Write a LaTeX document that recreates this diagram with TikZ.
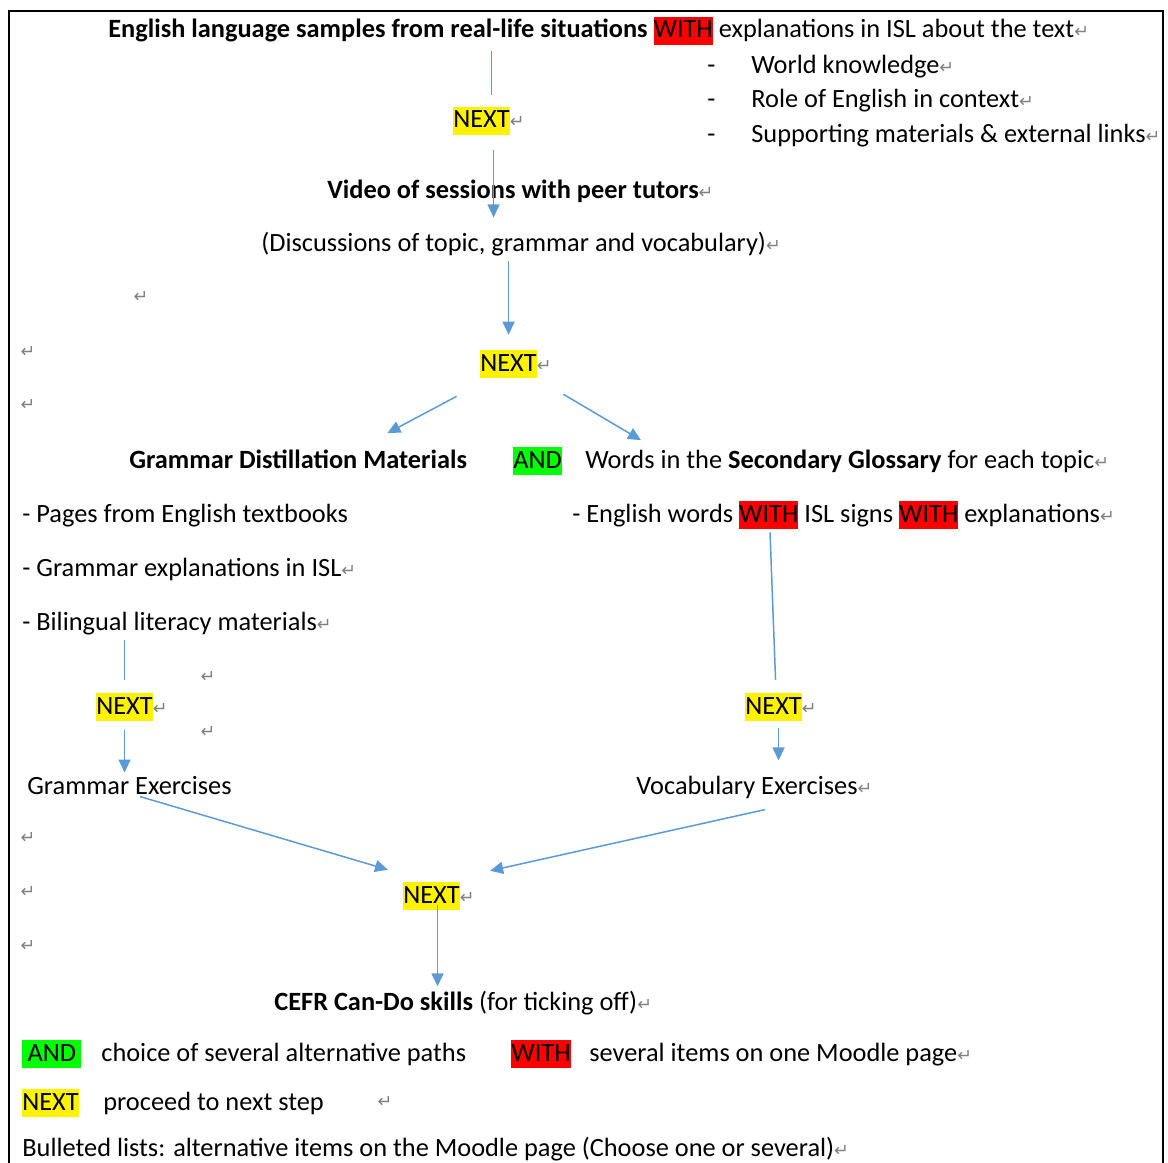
\documentclass[tikz,border=0pt]{standalone}
\usepackage{fontspec}
\setmainfont{Carlito}
\newfontfamily\symfont{DejaVu Sans}
\usetikzlibrary{arrows.meta,positioning}
\definecolor{arrowblue}{HTML}{5B9BD5}
\definecolor{markgray}{HTML}{808080}
\newcommand{\hlbox}[2]{{\setlength{\fboxsep}{0pt}\colorbox{#1}{\rule[-4pt]{0pt}{15.9pt}#2}}}
\newcommand{\ret}{{\symfont\fontsize{10}{10}\selectfont\color{markgray}↵}}

\begin{document}
\begin{tikzpicture}[
    x=0.02cm, y=-0.02cm,
    txt/.style={anchor=base west, inner sep=0pt, font=\fontsize{15}{18}\selectfont},
    nextbox/.style={txt, fill=yellow, text height=11.9pt, text depth=4pt},
    retmark/.style={anchor=center, inner sep=0pt},
    link/.style={-{Triangle[length=2.6mm,width=2.4mm]}, draw=arrowblue, line width=0.85pt},
    plain/.style={draw=arrowblue, line width=0.85pt}
]
\clip (0,0) rectangle (1168,1162);
\fill[white] (0,0) rectangle (1168,1162);
\draw[line width=1.3pt] (9,1200) -- (9,11) -- (1163,11) -- (1163,1200);

% top part
\node[txt] (title) at (108,38) {{\bfseries English language samples from real-life situations} \hlbox{red}{WITH} explanations in ISL about the text\ret};
\foreach \itemtext/\yy [count=\i] in {World knowledge/74, Role of English in context/108, Supporting materials \& external links/143} {
    \node[txt] (dash\i) at (707,\yy) {-};
    \node[txt] (item\i) at (751,\yy) {\itemtext\ret};
}
\node[nextbox] (nx1) at (453,128) {NEXT\rlap{\ret}};
\node[txt] (video) at (327,198) {\bfseries Video of sessions with peer tutors\mdseries\ret};
\node[txt] (discuss) at (261,251) {(Discussions of topic, grammar and vocabulary)\ret};
\node[nextbox] (nx2) at (480,371) {NEXT\rlap{\ret}};

% two branches
\node[txt] (gdm) at (129,468) {\bfseries Grammar Distillation Materials};
\node[txt, fill=green, text height=11.9pt, text depth=4pt] (and) at (513,468) {AND};
\node[txt] (words) at (585,468) {Words in the \textbf{Secondary Glossary} for each topic\ret};
\node[txt] (pages) at (22,522) {- Pages from English textbooks};
\node[txt] (gexpl) at (22,576) {- Grammar explanations in ISL\ret};
\node[txt] (bil) at (22,630) {- Bilingual literacy materials\ret};
\node[txt] (eng) at (572,522) {- English words \hlbox{red}{WITH} ISL signs \hlbox{red}{WITH} explanations\ret};
\node[nextbox] (nxL) at (96,714) {NEXT\rlap{\ret}};
\node[nextbox] (nxR) at (745,714) {NEXT\rlap{\ret}};
\node[txt] (gex) at (27,794) {Grammar Exercises};
\node[txt] (vex) at (636,794) {Vocabulary Exercises\ret};
\node[nextbox] (nx3) at (403,903) {NEXT\rlap{\ret}};
\node[txt] (cefr) at (274,1010) {\textbf{CEFR Can-Do skills} (for ticking off)\ret};

% empty paragraph marks
\foreach \px/\py [count=\i] in {141/297, 28/352, 28/405, 208/677, 208/732, 28/838, 28/892, 28/946, 385/1102} {
    \node[retmark] (par\i) at (\px,\py) {\ret};
}

% legend
\node[txt, fill=green, text height=11.9pt, text depth=4pt, minimum width=1.18cm] (legand) at (22,1061) {AND};
\node[txt] (legandtxt) at (101,1061) {choice of several alternative paths};
\node[txt] (legwith) at (511,1061) {\hlbox{red}{WITH}};
\node[txt] (legwithtxt) at (589,1061) {several items on one Moodle page\ret};
\node[nextbox] (legnext) at (22,1110) {NEXT};
\node[txt] (legnexttxt) at (103,1110) {proceed to next step};
\node[txt] (bullets) at (22,1156) {Bulleted lists: alternative items on the Moodle page (Choose one or several)\ret};

% connectors
\coordinate (topline) at ([shift={(10,0)}]nx1.north);
\draw[plain, shorten <=3pt, shorten >=2.4mm] (title.south -| topline) -- (topline);
\coordinate (topdown) at ([shift={(12,0)}]nx1.south);
\draw[link, shorten <=3mm, shorten >=2.8mm] (topdown) -- (topdown |- discuss.north);
\draw[link, shorten <=1mm, shorten >=3mm] (discuss.south -| nx2.north) -- (nx2.north);
\draw[link] ([shift={(-52,18)}]nx2.south) -- ([shift={(-80,-16)}]gdm.north east);
\draw[link] ([shift={(55,16)}]nx2.south) -- ([shift={(56,-9)}]words.north west);
\draw[plain, shorten <=3pt, shorten >=2.6mm] (bil.south -| nxL.north) -- (nxL.north);
\draw[link, shorten <=1.8mm, shorten >=0.6mm] (nxL.south) -- (nxL.south |- gex.north);
\draw[plain] ([shift={(198,3)}]eng.south west) -- ([shift={(2,-13)}]nxR.north);
\coordinate (rdown) at ([shift={(5,0)}]nxR.south);
\draw[link, shorten <=1.4mm, shorten >=3mm] (rdown) -- (rdown |- vex.north);
\draw[link] ([shift={(113,2)}]gex.south west) -- ([shift={(-15,-12)}]nx3.north west);
\draw[link] ([shift={(129,11)}]vex.south west) -- ([shift={(30,-11)}]nx3.north east);
\coordinate (cdown) at ([shift={(6,2)}]nx3.base);
\draw[link, shorten >=0.8mm] (cdown) -- (cdown |- cefr.north);
\end{tikzpicture}
\end{document}
